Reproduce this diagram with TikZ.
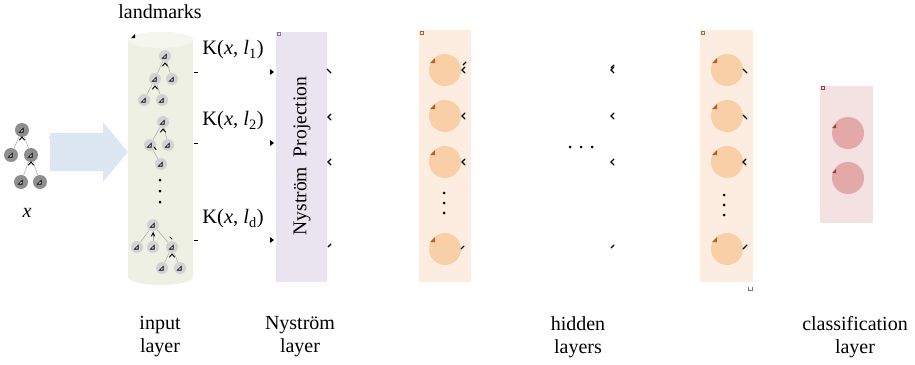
\documentclass[tikz,border=0pt]{standalone}
\usepackage{fontspec}
\setmainfont{Liberation Serif}
\usetikzlibrary{calc}

\definecolor{xgrey}{HTML}{8E8E8E}
\definecolor{lgrey}{HTML}{D2D2D2}
\definecolor{edgegrey}{HTML}{A8A8A8}
\definecolor{cylfill}{HTML}{EFF0E4}
\definecolor{cyltop}{HTML}{F5F6EE}
\definecolor{arrowblue}{HTML}{DCE7F2}
\definecolor{nysfill}{HTML}{E9E4F0}
\definecolor{nysmark}{HTML}{8A72A8}
\definecolor{hidfill}{HTML}{FDEDE1}
\definecolor{hidnode}{HTML}{F9CFA8}
\definecolor{hidmark}{HTML}{B8621B}
\definecolor{clsfill}{HTML}{F4E1E1}
\definecolor{clsnode}{HTML}{E3A8A8}
\definecolor{clsmark}{HTML}{A83A3A}

\begin{document}
\begin{tikzpicture}[x=1pt,y=-1pt,
  treeedge/.style={draw=edgegrey, line width=0.5pt},
  xnode/.style={circle, fill=xgrey, minimum size=14pt, inner sep=0pt},
  lnode/.style={circle, fill=lgrey, minimum size=12pt, inner sep=0pt},
  layerbox/.style={draw=none, inner sep=0pt, anchor=north west},
  hnode/.style={circle, fill=hidnode, minimum size=32pt, inner sep=0pt},
  cnode/.style={circle, fill=clsnode, minimum size=32pt, inner sep=0pt},
  caption/.style={font=\fontsize{20}{23}\selectfont, align=center},
  klabel/.style={font=\fontsize{20.5}{24}\selectfont},
  tipmark/.style={draw=black, line width=1.1pt, line cap=round},
  dotmark/.style={circle, fill=black, inner sep=0pt, minimum size=3pt}
]
\useasboundingbox (0,0) rectangle (915,364);

% ---------- input tree x ----------
\node[xnode] (x0) at (22,130) {};
\node[xnode] (x1) at (11,155) {};
\node[xnode] (x2) at (31,155) {};
\node[xnode] (x3) at (21,182) {};
\node[xnode] (x4) at (40,182) {};
\foreach \a/\b in {x0/x1,x0/x2,x2/x3,x2/x4}
  \draw[treeedge] (\a) -- (\b);
\node[caption, font=\fontsize{20}{23}\selectfont\itshape] (xlab) at (27,213) {x};
\draw[tipmark, line width=0.9pt] (50,137) -- (53,137) -- (53,134);

% ---------- big arrow ----------
\fill[arrowblue] (50,133) -- (103,133) -- (103,122) -- (128,152)
  -- (103,182) -- (103,171) -- (50,171) -- cycle;

% ---------- landmark cylinder ----------
\fill[cylfill] (128,40) -- (128,277) arc[start angle=180, end angle=0, x radius=32.5, y radius=8]
  -- (193,40) arc[start angle=0, end angle=-180, x radius=32.5, y radius=8] -- cycle;
\fill[cyltop] (160.5,40) ellipse[x radius=32.5, y radius=8];
\coordinate (cyl) at (160.5,160);
\fill[black] (131,38) -- (135,34) -- (135,38) -- cycle;
\node[caption] (land) at (160,12) {landmarks};

% landmark tree 1
\node[lnode] (a0) at (165,56) {};
\node[lnode] (a1) at (155,79) {};
\node[lnode] (a2) at (172,79) {};
\node[lnode] (a3) at (144,100) {};
\node[lnode] (a4) at (162,100) {};
\foreach \a/\b in {a0/a1,a0/a2,a1/a3,a1/a4}
  \draw[treeedge] (\a) -- (\b);
% landmark tree 2
\node[lnode] (b0) at (163,122) {};
\node[lnode] (b1) at (150,145) {};
\node[lnode] (b2) at (168,145) {};
\node[lnode] (b3) at (161,164) {};
\foreach \a/\b in {b0/b1,b0/b2,b1/b3}
  \draw[treeedge] (\a) -- (\b);
% landmark tree 3
\node[lnode] (c0) at (153,225) {};
\node[lnode] (c1) at (137,247) {};
\node[lnode] (c2) at (153,247) {};
\node[lnode] (c3) at (172,247) {};
\node[lnode] (c4) at (162,268) {};
\node[lnode] (c5) at (180,268) {};
\foreach \a/\b in {c0/c1,c0/c2,c0/c3,c3/c4,c3/c5}
  \draw[treeedge] (\a) -- (\b);

% glyphs inside tree nodes
\foreach \n in {x0,x1,x2,x3,x4,a0,a1,a2,a3,a4,b0,b1,b2,b3,c0,c1,c2,c3,c4,c5}{
  \fill[black] ($(\n)+(-3.5,2.5)$) -- ($(\n)+(1.5,2.5)$) -- ($(\n)+(1.5,-2.5)$) -- cycle;
  \fill[white] ($(\n)+(-1.5,1.5)$) -- ($(\n)+(0.6,1.5)$) -- ($(\n)+(0.6,-0.6)$) -- cycle;
}
% small chevrons on the tree edges
\foreach \n in {x0,x2,a0,a1,b0,c3}
  \draw[tipmark, line width=0.9pt] ($(\n)+(-2.5,10)$) -- ($(\n)+(0,7)$) -- ($(\n)+(2.5,10)$);
\draw[tipmark, line width=0.9pt] ($(c0)+(-1.5,11)$) -- ($(c0)+(0,8)$) -- ($(c0)+(1.5,11)$);
\draw[tipmark, line width=0.9pt] ($(b1)+(4,2)$) -- ($(b1)+(6,4.5)$);
\draw[tipmark, line width=0.9pt] ($(c3)+(-2,-10)$) -- ($(c3)+(0,-8)$);

% dots inside the cylinder
\foreach \y in {180,191,202}
  \node[dotmark] at (160,\y) {};

% ---------- kernel labels and connector stubs ----------
\node[klabel] (k1) at (233,50) {K(\textit{x}, \textit{l}\textsubscript{1})};
\node[klabel] (k2) at (233,121) {K(\textit{x}, \textit{l}\textsubscript{2})};
\node[klabel] (k3) at (233,219) {K(\textit{x}, \textit{l}\textsubscript{d})};
\foreach \y in {72,143,240}{
  \draw[black, line width=1pt] (194,\y) -- (198,\y);
  \fill[black] (270,\y-3) -- (274,\y) -- (270,\y+3) -- cycle;
}

% ---------- Nystrom projection ----------
\node[layerbox, fill=nysfill, minimum width=51pt, minimum height=250pt] (nys) at (276,32) {};
\node[rotate=90, font=\fontsize{19.5}{24}\selectfont] (nystext) at (302,156) {Nyström\ \ Projection};
\draw[nysmark, line width=0.8pt] (277,32) rectangle (280,35);
\draw[tipmark] (327,69) -- (331,73);
\draw[tipmark] (331,114) -- (328,117) -- (331,120);
\draw[tipmark] (331,159) -- (328,162) -- (331,165);
\draw[tipmark] (331,244) -- (328,247);

% ---------- hidden layer 1 ----------
\node[layerbox, fill=hidfill, minimum width=52pt, minimum height=252pt] (h1box) at (419,30) {};
\draw[hidmark, line width=0.8pt] (420,31) rectangle (423,34);
\node[hnode] (h11) at (445,70) {};
\node[hnode] (h12) at (445,116) {};
\node[hnode] (h13) at (445,162) {};
\node[hnode] (h14) at (445,249) {};
\foreach \y in {193,203,213}
  \node[dotmark] at (444,\y) {};

% ---------- hidden layer 2 ----------
\node[layerbox, fill=hidfill, minimum width=53pt, minimum height=252pt] (h2box) at (700,30) {};
\draw[hidmark, line width=0.8pt] (701,31) rectangle (704,34);
\node[hnode] (h21) at (727,70) {};
\node[hnode] (h22) at (727,116) {};
\node[hnode] (h23) at (727,162) {};
\node[hnode] (h24) at (727,249) {};
\foreach \y in {195,205,215}
  \node[dotmark] at (724,\y) {};
\draw[edgegrey!70!black, line width=0.7pt] (748,287) -- (748,290) -- (752,290) -- (752,287);

% orange corner glyphs of the hidden units
\foreach \n in {h11,h12,h13,h14,h21,h22,h23,h24}
  \fill[hidmark] ($(\n)+(-15,-7)$) -- ($(\n)+(-10,-7)$) -- ($(\n)+(-10,-12)$) -- cycle;

% connector stubs around the hidden layers
\foreach \y in {70,116,162}{
  \draw[tipmark] (465,\y-3) -- (462,\y) -- (465,\y+3);
  \draw[tipmark] (614,\y-3) -- (611,\y) -- (614,\y+3);
}
\draw[tipmark] (466,62) -- (463,65);
\draw[tipmark] (614,65) -- (611,68);
\draw[tipmark] (464,246) -- (461,249);
\draw[tipmark] (614,245) -- (611,248);
\draw[tipmark] (743,69) -- (747,73);
\draw[tipmark] (743,115) -- (747,119);
\draw[tipmark] (746,159) -- (743,162) -- (746,165);
\draw[tipmark] (747,245) -- (743,249);

% ellipsis between the hidden layers
\foreach \x in {570,581,592}
  \node[dotmark] at (\x,147) {};

% ---------- classification layer ----------
\node[layerbox, fill=clsfill, minimum width=53pt, minimum height=137pt] (clsbox) at (820,86) {};
\draw[clsmark, line width=0.8pt] (821,86) rectangle (824,89);
\node[cnode] (o1) at (848,133) {};
\node[cnode] (o2) at (848,178) {};
\foreach \n in {o1,o2}
  \fill[clsmark] ($(\n)+(-16,-5)$) -- ($(\n)+(-12,-5)$) -- ($(\n)+(-12,-9)$) -- cycle;

% ---------- layer captions ----------
\node[caption] (cap1) at (160,337) {input\\layer};
\node[caption] (cap2) at (300,337) {Nyström\\layer};
\node[caption] (cap3) at (578,337) {hidden\\layers};
\node[caption] (cap4) at (855,337) {classification\\layer};
\end{tikzpicture}
\end{document}
